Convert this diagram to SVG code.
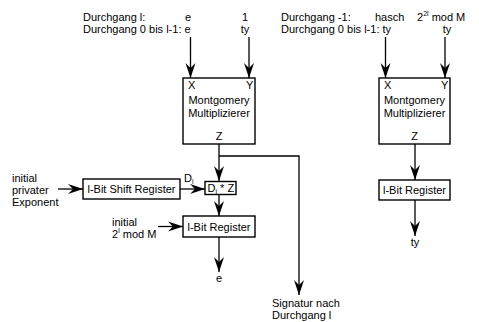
<svg xmlns="http://www.w3.org/2000/svg" width="479" height="322" viewBox="0 0 479 322">
<defs>
<marker id="arr" viewBox="-15 -6 16 12" refX="0" refY="0" markerWidth="16" markerHeight="12" markerUnits="userSpaceOnUse" orient="auto">
<path d="M0,0 L-15,-5 L-10,0 L-15,5 Z" fill="#000"/>
</marker>
<style>
text{font-family:"Liberation Sans",Arial,sans-serif;font-size:11px;fill:#000}
.sup{font-size:7px}
.box{fill:#fff;stroke:#000;stroke-width:1.4}
.ln{fill:none;stroke:#000;stroke-width:1.3}
.ar{marker-end:url(#arr)}
.c{text-anchor:middle}
</style>
</defs>
<rect width="479" height="322" fill="#fff"/>

<g id="labels">
<text x="83" y="21">Durchgang l:</text>
<text x="83" y="33">Durchgang 0 bis l-1: e</text>
<text x="185" y="21">e</text>
<text x="245" y="21" class="c">1</text>
<text x="245" y="33" class="c">ty</text>
<text x="281" y="21">Durchgang -1:</text>
<text x="281" y="33">Durchgang 0 bis l-1: ty</text>
<text x="375" y="21">hasch</text>
<text x="417" y="21">2<tspan class="sup" dy="-5">2l</tspan><tspan dy="5"> mod M</tspan></text>
<text x="447" y="33" class="c">ty</text>
<text x="12" y="182">initial</text>
<text x="12" y="194">privater</text>
<text x="12" y="206">Exponent</text>
<text x="184" y="182">D<tspan class="sup" dy="2">i</tspan></text>
<text x="112" y="226">initial</text>
<text x="112" y="238">2<tspan class="sup" dy="-5">l</tspan><tspan dy="5"> mod M</tspan></text>
<text x="219" y="282" class="c">e</text>
<text x="415" y="246" class="c">ty</text>
<text x="272" y="307">Signatur nach</text>
<text x="272" y="319">Durchgang l</text>
</g>

<g id="connectors">
<line class="ln ar" x1="190.5" y1="37" x2="190.5" y2="78"/>
<line class="ln ar" x1="249" y1="37" x2="249" y2="78"/>
<line class="ln ar" x1="385.5" y1="37" x2="385.5" y2="78"/>
<line class="ln ar" x1="445" y1="37" x2="445" y2="78"/>
<line class="ln ar" x1="219" y1="144" x2="219" y2="181"/>
<polyline class="ln ar" points="219,156 299,156 299,295"/>
<line class="ln ar" x1="58" y1="189" x2="83" y2="189"/>
<line class="ln ar" x1="180" y1="189" x2="205" y2="189"/>
<line class="ln ar" x1="219" y1="194" x2="219" y2="216"/>
<line class="ln ar" x1="158" y1="226.5" x2="183" y2="226.5"/>
<line class="ln ar" x1="219" y1="237" x2="219" y2="272"/>
<line class="ln ar" x1="415" y1="144" x2="415" y2="180"/>
<line class="ln ar" x1="415" y1="200" x2="415" y2="236"/>
</g>

<g id="mont1">
<rect class="box" x="183" y="78" width="72" height="66"/>
<text x="188" y="89">X</text>
<text x="246" y="89">Y</text>
<text x="219" y="104" class="c">Montgomery</text>
<text x="219" y="117" class="c">Multiplizierer</text>
<text x="219" y="140" class="c">Z</text>
</g>

<g id="mont2">
<rect class="box" x="379" y="78" width="71" height="66"/>
<text x="384" y="89">X</text>
<text x="441" y="89">Y</text>
<text x="414.5" y="104" class="c">Montgomery</text>
<text x="414.5" y="117" class="c">Multiplizierer</text>
<text x="414.5" y="140" class="c">Z</text>
</g>

<g id="shiftreg">
<rect class="box" x="83" y="179" width="97" height="20"/>
<text x="131.5" y="193" class="c">l-Bit Shift Register</text>
</g>

<g id="mult">
<rect class="box" x="205" y="181.5" width="31" height="13"/>
<text x="207.5" y="192">D<tspan class="sup" dy="2">i</tspan><tspan dy="-2"> * Z</tspan></text>
</g>

<g id="reg1">
<rect class="box" x="183" y="216" width="72" height="21"/>
<text x="219" y="230.5" class="c">l-Bit Register</text>
</g>

<g id="reg2">
<rect class="box" x="379" y="180" width="71" height="20"/>
<text x="414.5" y="194" class="c">l-Bit Register</text>
</g>
</svg>
